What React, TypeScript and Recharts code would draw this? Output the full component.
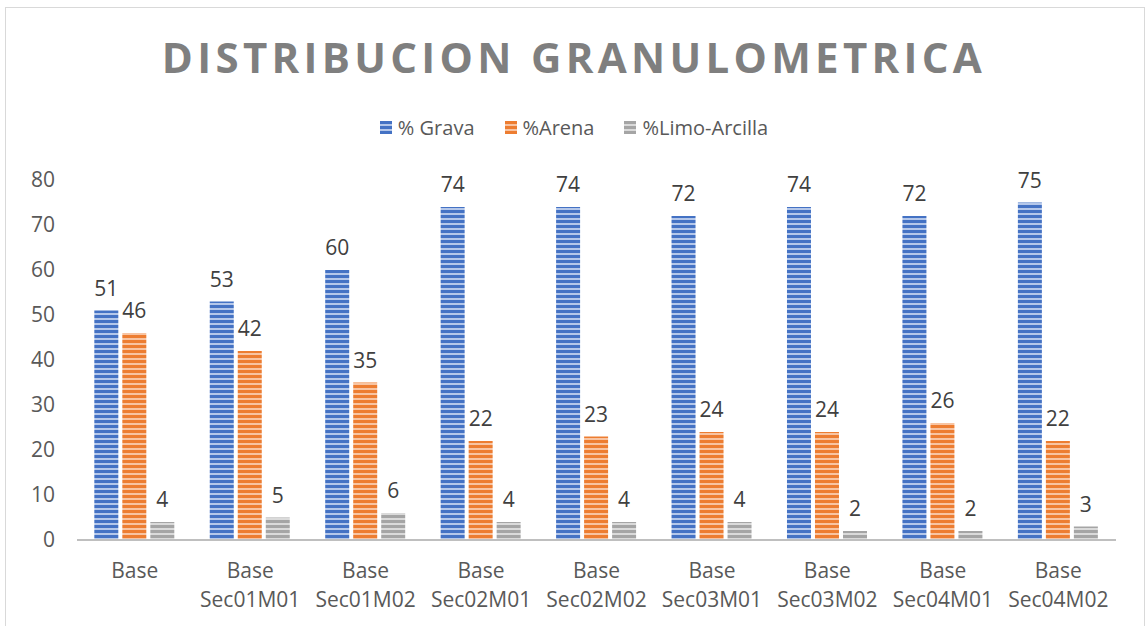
import { BarChart, Bar, XAxis, YAxis, LabelList } from 'recharts';

const categories = ['Base', 'Base Sec01M01', 'Base Sec01M02', 'Base Sec02M01', 'Base Sec02M02', 'Base Sec03M01', 'Base Sec03M02', 'Base Sec04M01', 'Base Sec04M02'];
const grava = [51, 53, 60, 74, 74, 72, 74, 72, 75];
const arena = [46, 42, 35, 22, 23, 24, 24, 26, 22];
const limo = [4, 5, 6, 4, 4, 4, 2, 2, 3];
const yTicks = [0, 10, 20, 30, 40, 50, 60, 70, 80];

const series = [
  { key: 'grava', name: '% Grava', dark: '#4472c4', light: '#b4c7ea' },
  { key: 'arena', name: '%Arena', dark: '#ed7d31', light: '#f8c4a2' },
  { key: 'limo', name: '%Limo-Arcilla', dark: '#a5a5a5', light: '#dadada' },
];

const data = categories.map((c, i) => ({ cat: c, grava: grava[i], arena: arena[i], limo: limo[i] }));

const FONT = '"Open Sans", "Noto Sans", sans-serif';

function XTick(props: any) {
  const { x, y, payload } = props;
  const lines = String(payload.value).split(' ');
  return (
    <g transform={`translate(${x},${y})`}>
      {lines.map((l, i) => (
        <text key={i} x={0} y={i * 29} dy={7} textAnchor="middle" fill="#595959" fontSize={21} fontFamily={FONT}>
          {l}
        </text>
      ))}
    </g>
  );
}

export default function App() {
  return (
    <div style={{ position: 'absolute', left: 0, top: 0, width: 1148, height: 626, background: '#fff' }}>
      <svg width={0} height={0} style={{ position: 'absolute' }}>
        <defs>
          {series.map((s) => (
            <pattern key={s.key} id={`pat-${s.key}`} patternUnits="userSpaceOnUse" width={8} height={5}>
              <rect width={8} height={5} fill={s.light} />
              <rect width={8} height={3} fill={s.dark} />
            </pattern>
          ))}
        </defs>
      </svg>
      <div style={{ position: 'absolute', left: 5, top: 7, right: 3, bottom: -4, border: '1px solid #d9d9d9', boxSizing: 'border-box' }} />
      <div
        style={{
          position: 'absolute',
          left: 0,
          top: 28,
          width: 1148,
          textAlign: 'center',
          fontFamily: FONT,
          fontWeight: 700,
          fontSize: 42,
          letterSpacing: 4.3,
          color: '#7f7f7f',
        }}
      >
        DISTRIBUCION GRANULOMETRICA
      </div>
      <div
        style={{
          position: 'absolute',
          left: 0,
          top: 114,
          width: 1148,
          display: 'flex',
          justifyContent: 'center',
          gap: 30,
          fontFamily: FONT,
          fontSize: 20,
          color: '#595959',
        }}
      >
        {series.map((s) => (
          <div key={s.key} style={{ display: 'flex', alignItems: 'center', gap: 6 }}>
            <svg width={12} height={13}>
              <rect width={12} height={13} fill={`url(#pat-${s.key})`} />
            </svg>
            <span>{s.name}</span>
          </div>
        ))}
      </div>
      <div style={{ position: 'absolute', left: 0, top: 0 }}>
        <BarChart width={1148} height={626} data={data} margin={{ top: 180, right: 32, left: 0, bottom: 0 }} barCategoryGap="15%" barGap={4}>
          <XAxis dataKey="cat" height={86} tick={<XTick />} tickLine={false} axisLine={{ stroke: '#bfbfbf', strokeWidth: 2 }} interval={0} tickMargin={25} />
          <YAxis width={77} domain={[0, 80]} ticks={yTicks} axisLine={false} tickLine={false} tickSize={0} tickMargin={22} tick={{ fill: '#595959', fontSize: 21, fontFamily: FONT }} />
          {series.map((s) => (
            <Bar key={s.key} dataKey={s.key} name={s.name} fill={`url(#pat-${s.key})`} isAnimationActive={false}>
              <LabelList dataKey={s.key} position="top" offset={15} fill="#404040" fontSize={21} fontFamily={FONT} />
            </Bar>
          ))}
        </BarChart>
      </div>
    </div>
  );
}
